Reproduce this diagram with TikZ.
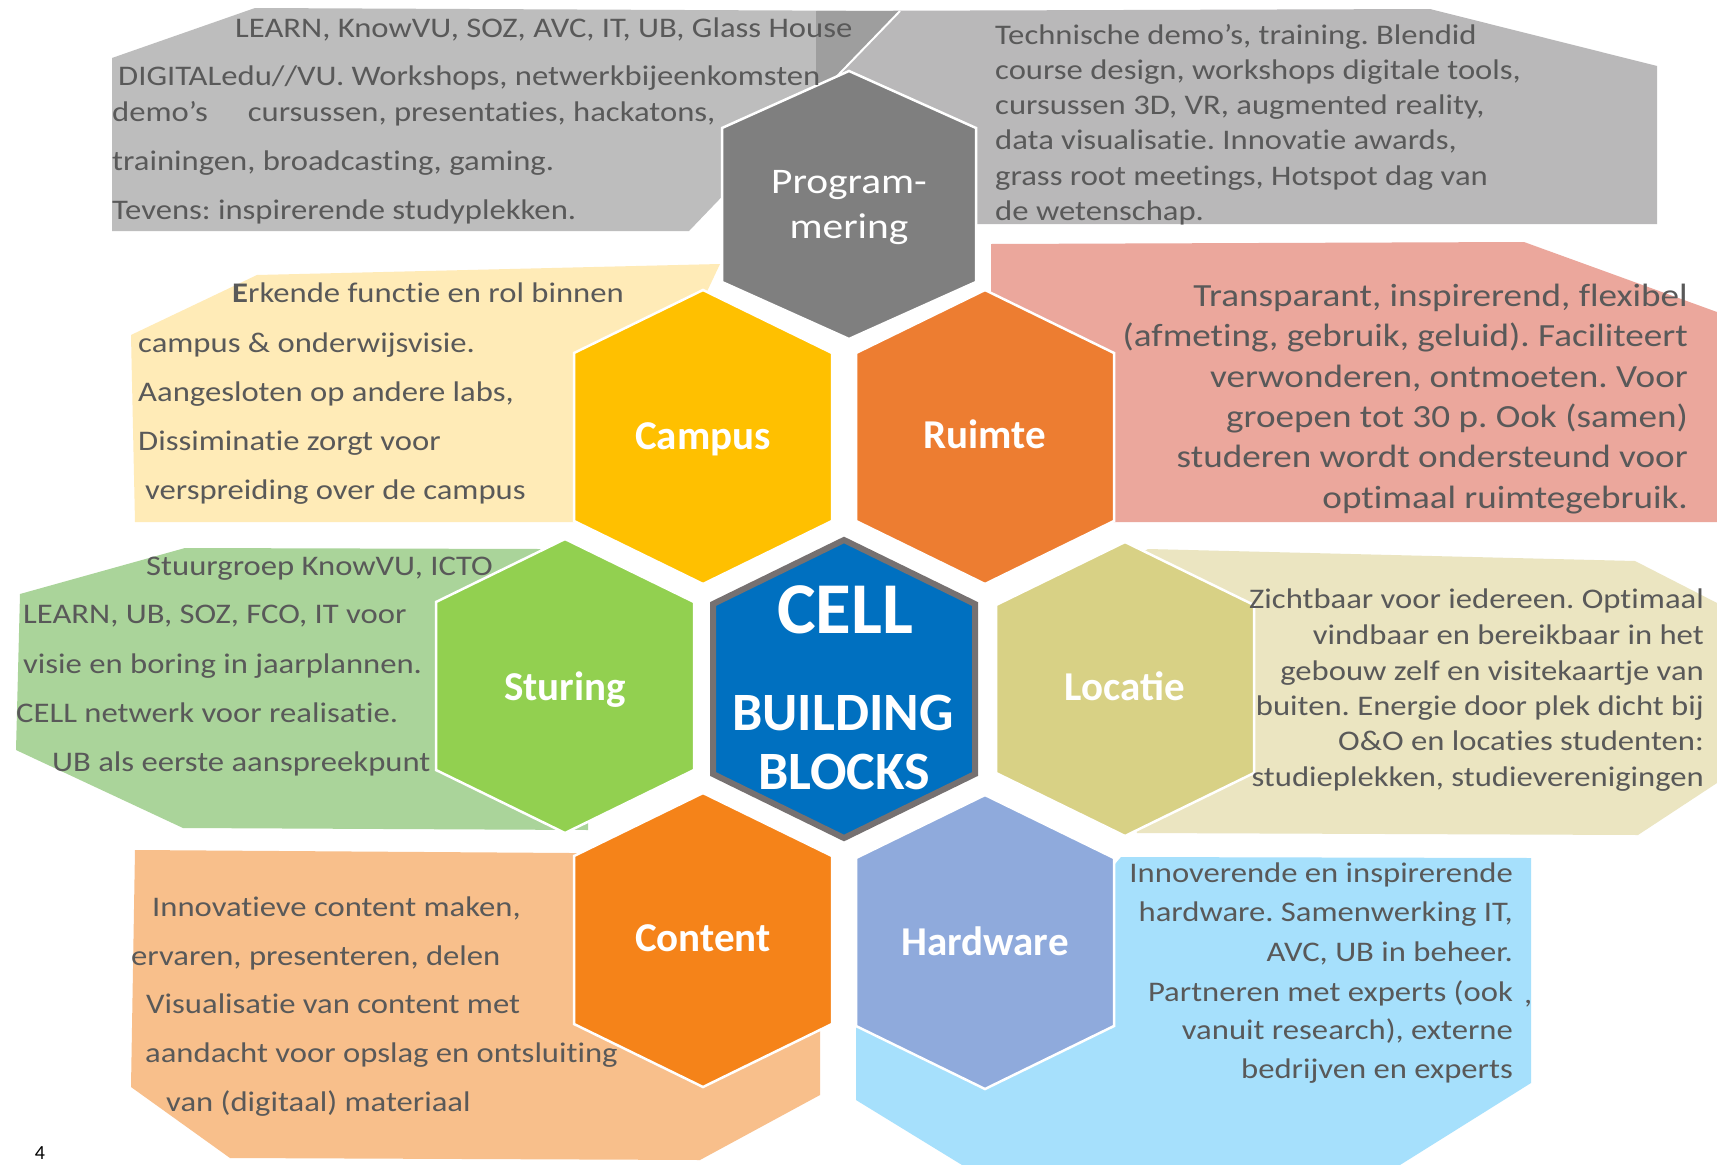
\documentclass[tikz,border=0pt]{standalone}
\usepackage{fontspec}
\setmainfont{Carlito}
\newfontfamily\bodyf{Carlito}[FakeStretch=1.15, Ligatures={NoCommon}]
\newfontfamily\labf{Carlito}
\frenchspacing
\definecolor{txt}{HTML}{595959}
\definecolor{grayA}{HTML}{BDBDBD}
\definecolor{grayB}{HTML}{B9B8B9}
\definecolor{grayOv}{HTML}{9E9E9E}
\definecolor{progc}{HTML}{7F7F7F}
\definecolor{campusc}{HTML}{FFC000}
\definecolor{campusbox}{HTML}{FFEBB7}
\definecolor{ruimtec}{HTML}{ED7D31}
\definecolor{ruimtebox}{HTML}{EBA79C}
\definecolor{sturingc}{HTML}{92D050}
\definecolor{sturingbox}{HTML}{AAD49A}
\definecolor{cellc}{HTML}{0070C0}
\definecolor{cellborder}{HTML}{767171}
\definecolor{locatiec}{HTML}{D8D185}
\definecolor{locatiebox}{HTML}{EBE5C1}
\definecolor{contentc}{HTML}{F58319}
\definecolor{contentbox}{HTML}{F8BF8B}
\definecolor{hardwarec}{HTML}{8FAADC}
\definecolor{hardwarebox}{HTML}{A6E0FC}
% hexagon: x y halfwidth top side style
\newcommand\hexshape[6]{\filldraw[#6] (#1,#2-#4) -- (#1+#3,#2-#5) -- (#1+#3,#2+#5) -- (#1,#2+#4) -- (#1-#3,#2+#5) -- (#1-#3,#2-#5) -- cycle;}
\tikzset{
  body/.style={font={\bodyf\fontsize{28.4}{34}\selectfont}, text=txt, inner sep=0pt},
  lw/.style={body, anchor=base west},
  le/.style={body, anchor=base east},
  big/.style={font={\bodyf\fontsize{32.3}{38}\selectfont}},
  lab/.style={font={\labf\bfseries\fontsize{41}{48}\selectfont}, text=white, inner sep=0pt, anchor=base},
  hexw/.style={draw=white, line width=2.5pt},
}
\begin{document}
\begin{tikzpicture}[x=1pt,y=-1pt]
\fill[white] (0,0) rectangle (1717,1165);
\useasboundingbox (0,0) rectangle (1717,1165);

% text panels
\fill[grayB] (816,11) -- (1430,9) -- (1657,66) -- (1657,224) -- (816,224) -- cycle;
\fill[grayA] (255,8) -- (900,11) -- (689,231) -- (112,231) -- (112,58) -- cycle;
\fill[grayOv] (816,11) -- (900,11) -- (816,98) -- cycle;
\draw[white, line width=2pt] (900,11) -- (816,98);
\fill[campusbox] (257,275) -- (720,264) -- (703,300) -- (640,522) -- (135,522) -- (131,335) -- cycle;
\fill[ruimtebox] (991,244) -- (1524,242) -- (1717,312) -- (1717,522) -- (1000,522) -- (991,300) -- cycle;
\fill[sturingbox] (185,548) -- (540,549) -- (590,600) -- (588,830) -- (183,828) -- (16,750) -- (20,594) -- cycle;
\fill[locatiebox] (1148,549) -- (1635,561) -- (1717,603) -- (1717,783) -- (1638,835) -- (1137,833) -- (1100,700) -- (1130,560) -- cycle;
\fill[contentbox] (135,850) -- (571,853) -- (820,855) -- (820,1095) -- (700,1160) -- (230,1158) -- (131,1087) -- cycle;
\fill[hardwarebox] (1121,857) -- (1531,858) -- (1531,1083) -- (1400,1165) -- (962,1165) -- (856,1100) -- (856,1020) -- (1000,950) -- (1110,870) -- cycle;

% hexagons
\hexshape{849}{205}{127}{134}{77}{fill=progc, hexw}
\hexshape{703}{437}{129}{147}{84}{fill=campusc, hexw}
\hexshape{985}{437}{129}{147}{84}{fill=ruimtec, hexw}
\hexshape{565}{686}{129}{147}{84}{fill=sturingc, hexw}
\hexshape{1125}{689}{129}{147}{84}{fill=locatiec, hexw}
\hexshape{703}{940}{129}{147}{84}{fill=contentc, hexw}
\hexshape{985}{942}{129}{147}{84}{fill=hardwarec, hexw}
\hexshape{844}{689}{131}{149}{85}{fill=cellc, draw=cellborder, line width=6pt}

% hex labels
\node[font={\bodyf\fontsize{36}{40}\selectfont}, text=white, inner sep=0pt, anchor=base] (prog1) at (849,193) {Program-};
\node[font={\bodyf\fontsize{36}{40}\selectfont}, text=white, inner sep=0pt, anchor=base] (prog2) at (849,238) {mering};
\node[lab] (campus) at (703,449) {Campus};
\node[lab] (ruimte) at (985,448) {Ruimte};
\node[lab] (sturing) at (565,700) {Sturing};
\node[lab] (locatie) at (1125,700) {Locatie};
\node[lab] (content) at (703,951) {Content};
\node[lab] (hardware) at (985,955) {Hardware};
\node[lab, font={\labf\bfseries\fontsize{73}{80}\selectfont}] (cell) at (845,633) {CELL};
\node[lab, font={\labf\bfseries\fontsize{54}{60}\selectfont}] (building) at (843,730) {BUILDING};
\node[lab, font={\labf\bfseries\fontsize{54}{60}\selectfont}] (blocks) at (844,789) {BLOCKS};

% top-left text
\node[lw] (tl1) at (235,37) {LEARN, KnowVU, SOZ, AVC, IT, UB, Glass House};
\node[lw] (tl2) at (118,85) {DIGITALedu//VU. Workshops, netwerkbijeenkomsten};
\node[lw] (tl3) at (112,121) {demo’s\hspace{40pt}cursussen, presentaties, hackatons,};
\node[lw] (tl4) at (112,170) {trainingen, broadcasting, gaming.};
\node[lw] (tl5) at (112,219) {Tevens: inspirerende studyplekken.};

% top-right text
\node[lw] (tr1) at (995,44) {Technische demo’s, training. Blendid};
\node[lw] (tr2) at (995,79.3) {course design, workshops digitale tools,};
\node[lw] (tr3) at (995,114.6) {cursussen 3D, VR, augmented reality,};
\node[lw] (tr4) at (995,149.9) {data visualisatie. Innovatie awards,};
\node[lw] (tr5) at (995,185.2) {grass root meetings, Hotspot dag van};
\node[lw] (tr6) at (995,220.5) {de wetenschap.};

% campus text
\node[lw] (ca1) at (232,302) {{\bfseries E}rkende functie en rol binnen};
\node[lw] (ca2) at (138,352) {campus \& onderwijsvisie.};
\node[lw] (ca3) at (138,401) {Aangesloten op andere labs,};
\node[lw] (ca4) at (138,450) {Dissiminatie zorgt voor};
\node[lw] (ca5) at (145,499) {verspreiding over de campus};

% ruimte text
\node[le, big] (ru1) at (1688,306) {Transparant, inspirerend, flexibel};
\node[le, big] (ru2) at (1688,346.5) {(afmeting, gebruik, geluid). Faciliteert};
\node[le, big] (ru3) at (1688,387) {verwonderen, ontmoeten. Voor};
\node[le, big] (ru4) at (1688,427) {groepen tot 30 p. Ook (samen)};
\node[le, big] (ru5) at (1688,467.5) {studeren wordt ondersteund voor};
\node[le, big] (ru6) at (1688,508) {optimaal ruimtegebruik.};

% sturing text
\node[lw] (st1) at (146,575) {Stuurgroep KnowVU, ICTO};
\node[lw] (st2) at (23,623) {LEARN, UB, SOZ, FCO, IT voor};
\node[lw] (st3) at (23,673) {visie en boring in jaarplannen.};
\node[lw] (st4) at (16,722) {CELL netwerk voor realisatie.};
\node[lw] (st5) at (52,771) {UB als eerste aanspreekpunt};

% locatie text
\node[le] (lo1) at (1704,608.5) {Zichtbaar voor iedereen. Optimaal};
\node[le] (lo2) at (1704,644) {vindbaar en bereikbaar in het};
\node[le] (lo3) at (1704,680) {gebouw zelf en visitekaartje van};
\node[le] (lo4) at (1704,715.5) {buiten. Energie door plek dicht bij};
\node[le] (lo5) at (1704,750.5) {O\&O en locaties studenten:};
\node[le] (lo6) at (1704,786) {studieplekken, studieverenigingen};

% content text
\node[lw] (co1) at (152,916) {Innovatieve content maken,};
\node[lw] (co2) at (131,965) {ervaren, presenteren, delen};
\node[lw] (co3) at (146,1013) {Visualisatie van content met};
\node[lw] (co4) at (145,1062) {aandacht voor opslag en ontsluiting};
\node[lw] (co5) at (166,1111) {van (digitaal) materiaal};

% hardware text
\node[le] (hw1) at (1513,882.5) {Innoverende en inspirerende};
\node[le] (hw2) at (1513,921) {hardware. Samenwerking IT,};
\node[le] (hw3) at (1513,961.5) {AVC, UB in beheer.};
\node[le] (hw4) at (1513,1001) {Partneren met experts (ook};
\node[le] (hw5) at (1513,1039.5) {vanuit research), externe};
\node[le] (hw6) at (1513,1078.5) {bedrijven en experts};
\node[lw] (hwc) at (1524,1003) {,};

% page number
\node[inner sep=0pt, anchor=base, font={\fontsize{20}{22}\selectfont}] (pagenum) at (40,1159) {4};
\end{tikzpicture}
\end{document}
